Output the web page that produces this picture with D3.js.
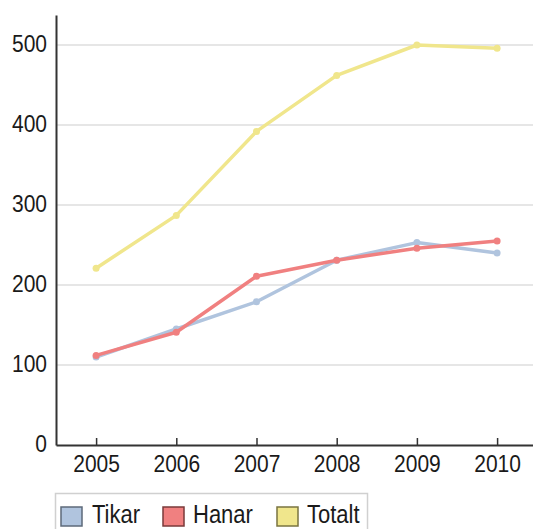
<!DOCTYPE html>
<html>
<head>
<meta charset="utf-8">
<script src="https://cdn.jsdelivr.net/npm/d3@7"></script>
<style>
  body { margin: 0; background: #fff; }
  svg { display: block; font-family: "Liberation Sans", Arial, sans-serif; }
</style>
</head>
<body>
<div id="chart"></div>
<script>
// Data
const years = [2005, 2006, 2007, 2008, 2009, 2010];
const tikar = [110, 145, 179, 231, 253, 240];
const hanar = [112, 141, 211, 231, 246, 255];
const totalt = [221, 287, 392, 462, 500, 496];
const yTicks = [0, 100, 200, 300, 400, 500];
const seriesNames = ["Tikar", "Hanar", "Totalt"];
const seriesColors = ["#b0c4de", "#f08080", "#f0e68c"];
const swatchStroke = ["#5d6a7a", "#7a3a3a", "#7a7440"];

const width = 533, height = 529;
const margin = { top: 15, right: 0, bottom: 84, left: 56 };
const stretch = 1.13; // text in the picture is a bit taller than wide

const svg = d3.select("#chart").append("svg")
    .attr("width", width)
    .attr("height", height);

// Scales
const xScale = d3.scaleLinear()
    .domain([2004.5, 2010.5])
    .range([margin.left, margin.left + 6 * 80.2]);

const yScale = d3.scaleLinear()
    .domain([0, 537.5])
    .range([height - margin.bottom, margin.top]);

// Gridlines
svg.append("g")
    .selectAll("line")
    .data(yTicks.filter(d => d > 0))
    .enter().append("line")
    .attr("x1", margin.left)
    .attr("x2", width)
    .attr("y1", d => yScale(d))
    .attr("y2", d => yScale(d))
    .attr("stroke", "#e6e6e6")
    .attr("stroke-width", 2);

// Y axis
const yAxis = svg.append("g")
    .attr("transform", `translate(${margin.left},0)`)
    .call(d3.axisLeft(yScale).tickValues(yTicks).tickSize(0).tickPadding(9));
yAxis.select(".domain").attr("stroke", "#333").attr("stroke-width", 2);
yAxis.selectAll("text").attr("font-size", "21px").attr("fill", "#1a1a1a")
    .attr("font-family", "Liberation Sans, Arial, sans-serif")
    .attr("dy", "0.28em")
    .attr("transform", `scale(1,${stretch})`);

// X axis
const xAxis = svg.append("g")
    .attr("transform", `translate(0,${yScale(0)})`)
    .call(d3.axisBottom(xScale).tickValues(years).tickFormat(d3.format("d"))
        .tickSizeInner(-7).tickSizeOuter(0).tickPadding(9));
xAxis.select(".domain").attr("stroke", "#333").attr("stroke-width", 2);
xAxis.selectAll(".tick line").attr("stroke", "#333").attr("stroke-width", 1.5);
xAxis.selectAll("text").attr("font-size", "21px").attr("fill", "#1a1a1a")
    .attr("font-family", "Liberation Sans, Arial, sans-serif")
    .attr("transform", `scale(1,${stretch})`);

// Lines
const allSeries = [tikar, hanar, totalt];
const line = d3.line()
    .x((d, i) => xScale(years[i]))
    .y(d => yScale(d));

allSeries.forEach((values, k) => {
    svg.append("path")
        .datum(values)
        .attr("fill", "none")
        .attr("stroke", seriesColors[k])
        .attr("stroke-width", 3.5)
        .attr("stroke-linejoin", "round")
        .attr("d", line);

    svg.append("g")
        .selectAll("circle")
        .data(values)
        .enter().append("circle")
        .attr("cx", (d, i) => xScale(years[i]))
        .attr("cy", d => yScale(d))
        .attr("r", 3.5)
        .attr("fill", seriesColors[k]);
});

// Legend
const legend = svg.append("g").attr("transform", "translate(55,493)");
legend.append("rect")
    .attr("x", 0.5).attr("y", 0.5)
    .attr("width", 312).attr("height", 50)
    .attr("fill", "#fff")
    .attr("stroke", "#d0d0d0")
    .attr("stroke-width", 1.5);

const swatchX = [6, 108, 222];
const textX = [37, 138, 252];
seriesNames.forEach((name, k) => {
    legend.append("rect")
        .attr("x", swatchX[k]).attr("y", 14)
        .attr("width", 21).attr("height", 19)
        .attr("fill", seriesColors[k])
        .attr("stroke", swatchStroke[k])
        .attr("stroke-width", 1.5);
    legend.append("text")
        .attr("transform", `translate(${textX[k]},30) scale(1,${stretch})`)
        .attr("font-size", "22px")
        .attr("fill", "#1a1a1a")
        .text(name);
});
</script>
</body>
</html>
